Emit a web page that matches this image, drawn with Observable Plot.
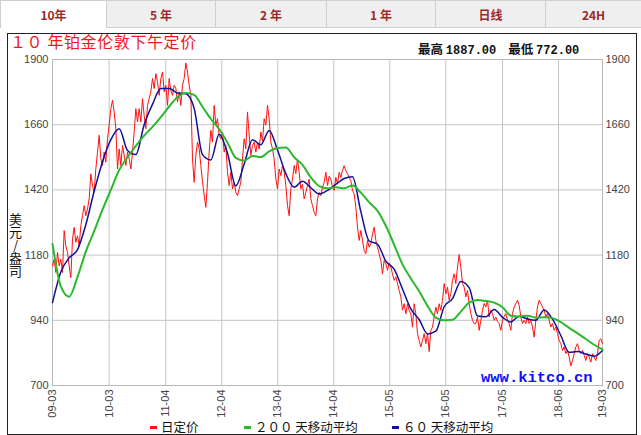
<!DOCTYPE html>
<html><head><meta charset="utf-8">
<script src="https://cdn.jsdelivr.net/npm/d3@7"></script>
<script src="https://cdn.jsdelivr.net/npm/@observablehq/plot@0.6"></script>
<style>
body{margin:0;background:#fff;font-family:"Noto Sans CJK SC","Noto Sans",sans-serif;}
#wrap{position:relative;width:641px;height:435px;overflow:hidden;background:#fff;}
.tab{position:absolute;top:0;height:28px;line-height:27px;text-align:center;font-size:12px;font-weight:bold;color:#9a2a2a;background:#efefef;border:1px solid #cfcfcf;box-sizing:border-box;}
.tab.on{background:#fff;border-bottom:none;}
#box{position:absolute;left:7px;top:33px;width:630px;height:402px;border:1px solid #222;box-sizing:border-box;}
#chart{position:absolute;left:0;top:34px;}
#title{position:absolute;left:10px;top:32.5px;font-size:16px;line-height:16px;color:#f01818;white-space:pre;letter-spacing:0.6px;}
#hl{position:absolute;left:418px;top:41px;font-size:12.5px;line-height:15px;font-weight:bold;color:#111;white-space:pre;}
#hl .n{font-family:"Liberation Mono","DejaVu Sans Mono",monospace;font-size:12px;}
#hl .g{margin-left:12px;}
#ylab{position:absolute;left:8px;top:213px;font-size:13px;line-height:14px;color:#111;writing-mode:vertical-rl;text-orientation:upright;letter-spacing:0px;}
#kitco{position:absolute;left:481px;top:369px;font-family:"Liberation Mono","DejaVu Sans Mono",monospace;font-weight:bold;font-size:15.5px;color:#1010ff;}
.lg{position:absolute;top:419px;font-size:12.5px;color:#111;white-space:pre;line-height:16px;}
.sw{display:inline-block;width:7px;height:3px;vertical-align:middle;margin-right:4px;position:relative;top:-1px;}
</style></head>
<body>
<div id="wrap">
  <div id="tabs"></div>
  <div id="box"></div>
  <div id="title">１０ 年铂金伦敦下午定价</div>
  <div id="hl">最高 <span class="n">1887.00</span><span class="g">最低 </span><span class="n">772.00</span></div>
  <div id="chart"></div>
  <div id="ylab">美元/盎司</div>
  <div id="kitco">www.kitco.cn</div>
  <div id="legend"></div>
</div>
<script>
// ---- data ----
const tabLabels = ["10年", "5 年", "2 年", "1 年", "日线", "24H"];
const yTicks = [700, 940, 1180, 1420, 1660, 1900];
const xTickPos = [0, 34, 68, 101.6, 135.2, 168.8, 202.4, 236, 270, 303.6, 330];
const xTickLabels = ["09-03", "10-03", "11-04", "12-04", "13-04", "14-04", "15-05", "16-05", "17-05", "18-06", "19-03"];
const seriesNames = ["日定价", "２００ 天移动平均", "６０ 天移动平均"];

// daily fixing (sampled), index step = 1
const dailyFix = [
1140,1165,1116,1190,1140,1165,1116,1270,1214,1190,
1140,1097,1239,1282,1227,1251,1214,1288,1325,1362,
1325,1350,1387,1479,1436,1411,1497,1559,1621,1534,
1510,1559,1522,1608,1658,1719,1750,1707,1645,1497,
1571,1510,1584,1547,1510,1559,1534,1497,1559,1633,
1719,1670,1719,1670,1756,1694,1645,1731,1756,1781,
1830,1793,1848,1818,1768,1830,1854,1781,1805,1731,
1830,1787,1768,1805,1793,1744,1781,1731,1805,1830,
1887,1854,1805,1768,1534,1448,1547,1596,1571,1510,
1450,1400,1356,1448,1559,1639,1596,1731,1658,1682,
1620,1608,1633,1559,1584,1485,1436,1485,1424,1448,
1411,1399,1424,1448,1534,1608,1571,1707,1621,1547,
1584,1596,1559,1596,1570,1633,1600,1682,1658,1731,
1682,1596,1571,1534,1460,1424,1497,1473,1510,1485,
1436,1362,1325,1424,1460,1510,1480,1534,1485,1424,
1440,1387,1411,1436,1460,1387,1362,1338,1325,1387,
1411,1399,1430,1448,1485,1436,1470,1460,1430,1418,
1466,1442,1485,1466,1491,1509,1491,1479,1466,1454,
1418,1405,1356,1283,1234,1271,1234,1197,1185,1234,
1209,1222,1258,1283,1234,1209,1185,1160,1111,1160,
1148,1124,1150,1136,1111,1087,1100,1075,1050,1026,
977,1001,964,1001,977,964,915,1001,964,891,
866,842,866,891,854,891,825,903,915,952,
989,964,1001,977,1014,1075,1038,1062,1014,1038,
1087,1111,1075,1136,1182,1136,1075,1062,1026,1050,
1001,964,940,928,928,952,903,940,977,1002,
989,1014,952,977,965,940,952,935,928,903,
940,955,965,940,928,903,965,989,1002,1014,
995,952,928,940,928,952,928,940,915,878,
940,989,1014,1002,989,977,952,965,940,915,
928,903,915,891,866,854,829,842,817,829,
805,772,792,817,842,854,829,817,829,811,
792,817,805,786,817,805,792,817,866,872,
854];

// 60-day moving average, index step = 5
const ma60 = [
1005,1118,1170,1200,1292,1415,1524,1605,1645,1565,
1550,1660,1735,1793,1793,1777,1774,1720,1550,1530,
1625,1555,1435,1515,1605,1586,1639,1567,1480,1430,
1452,1428,1405,1418,1440,1462,1468,1340,1232,1220,
1158,1128,1055,982,943,890,900,990,1020,1083,
1060,956,953,980,951,934,955,945,940,978,
944,884,822,825,816,808,829];

// 200-day moving average, index step = 5
const ma200 = [
1221,1065,1027,1100,1193,1268,1347,1420,1493,1540,
1582,1620,1652,1688,1727,1762,1777,1770,1726,1681,
1644,1594,1538,1528,1545,1541,1562,1574,1576,1540,
1512,1466,1434,1426,1430,1426,1436,1410,1374,1343,
1288,1218,1146,1094,1047,993,950,940,942,972,
1005,1015,1011,1005,988,957,954,957,950,951,
948,933,912,892,871,850,833];

// ---- tabs ----
const tabEdges = [0, 106, 215, 326, 435, 545, 641];
const tabs = document.getElementById("tabs");
tabLabels.forEach((t, i) => {
  const d = document.createElement("div");
  d.className = "tab" + (i === 0 ? " on" : "");
  d.style.left = tabEdges[i] + "px";
  d.style.width = (tabEdges[i + 1] - tabEdges[i] + 1) + "px";
  d.textContent = t;
  tabs.appendChild(d);
});

// ---- chart ----
const RED = "#ff1010", GREEN = "#2db82d", BLUE = "#10109a";
const labelMap = new Map(xTickPos.map((p, i) => [p, xTickLabels[i]]));
const chart = Plot.plot({
  width: 641,
  height: 401,
  marginTop: 25,
  marginBottom: 50,
  marginLeft: 52,
  marginRight: 39,
  style: {fontFamily: "'Liberation Sans', Arial, sans-serif", fontSize: "11px", color: "#444", background: "transparent"},
  x: {domain: [0, 330]},
  y: {domain: [700, 1900]},
  marks: [
    Plot.gridY(yTicks, {stroke: "#c4c4c4", strokeOpacity: 1}),
    Plot.gridX(xTickPos, {stroke: "#c4c4c4", strokeOpacity: 1}),
    Plot.frame({stroke: "#b8b8b8"}),
    Plot.line(dailyFix, {x: (d, i) => i, y: d => d, stroke: RED, strokeWidth: 1}),
    Plot.line(ma60, {x: (d, i) => i * 5, y: d => d, stroke: BLUE, strokeWidth: 1.5, curve: "monotone-x"}),
    Plot.line(ma200, {x: (d, i) => i * 5, y: d => d, stroke: GREEN, strokeWidth: 2, curve: "monotone-x"}),
    Plot.axisY(yTicks, {anchor: "left", tickSize: 0, tickPadding: 4, label: null, tickFormat: d => String(d)}),
    Plot.axisY(yTicks, {anchor: "right", tickSize: 0, tickPadding: 3, label: null, tickFormat: d => String(d)}),
    Plot.axisX(xTickPos, {anchor: "bottom", tickSize: 0, tickPadding: 4, tickRotate: -90, label: null, tickFormat: d => labelMap.get(d)})
  ]
});
document.getElementById("chart").appendChild(chart);

// ---- legend ----
const legendColors = [RED, GREEN, BLUE];
const legendLeft = [150, 244, 392];
const lg = document.getElementById("legend");
seriesNames.forEach((n, i) => {
  const d = document.createElement("div");
  d.className = "lg";
  d.style.left = legendLeft[i] + "px";
  d.innerHTML = `<span class="sw" style="background:${legendColors[i]}"></span>${n}`;
  lg.appendChild(d);
});
</script>
</body></html>
